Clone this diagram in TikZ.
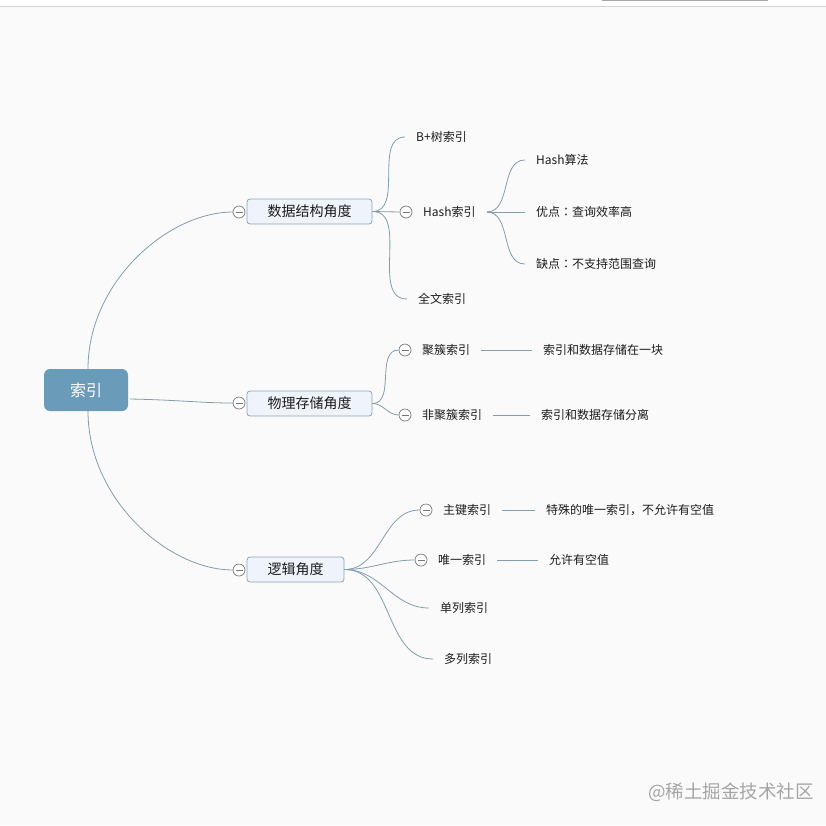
\documentclass[tikz,border=0pt]{standalone}
\usepackage{fontspec}
\setmainfont{Noto Sans CJK SC}
\newfontfamily\tcfont{Noto Sans CJK TC}
\newcommand{\fwcolon}{{\tcfont ：}}
\definecolor{bgc}{RGB}{250,250,250}
\definecolor{rootc}{RGB}{106,155,185}
\definecolor{boxfill}{RGB}{238,244,250}
\definecolor{boxline}{RGB}{140,165,182}
\definecolor{linec}{RGB}{130,158,172}
\definecolor{foldc}{RGB}{120,120,120}
\definecolor{textc}{RGB}{28,28,28}
\definecolor{wmc}{RGB}{165,165,165}
\definecolor{topc}{RGB}{212,212,212}
\begin{document}
\begin{tikzpicture}[x=1pt,y=-1pt,
  conn/.style={draw=linec, line width=0.8pt},
  rootbox/.style={rounded corners=6pt, fill=rootc, text=white, minimum width=84pt, minimum height=42pt, font=\fontsize{16}{18}\selectfont, inner sep=0pt},
  midbox/.style={rounded corners=3pt, draw=boxline, fill=boxfill, line width=0.8pt, minimum height=25pt, font=\fontsize{14}{16}\selectfont, text=textc, inner sep=0pt},
  leaf/.style={anchor=west, inner xsep=11pt, inner ysep=2pt, font=\fontsize{12}{14}\selectfont, text=textc},
  fold/.style={circle, draw=foldc, fill=white, line width=0.7pt, minimum size=12pt, inner sep=0pt,
    path picture={\draw[foldc, line width=0.7pt] ([xshift=2.5pt]path picture bounding box.west) -- ([xshift=-2.5pt]path picture bounding box.east);}}
]
\useasboundingbox (0,0) rectangle (826,825);
\fill[bgc] (0,0) rectangle (826,825);
\fill[white] (0,0) rectangle (826,6);
\draw[topc, line width=1pt] (0,6) -- (826,6);
\draw[black!35, line width=1.2pt] (602,0.6) -- (768,0.6);

% root
\node[rootbox] (root) at (86,390) {索引};

% level-1 boxes and fold marks
\node[midbox, minimum width=125pt] (b1) at (309.5,211.5) {数据结构角度};
\node[midbox, minimum width=125pt] (b2) at (309.5,403.5) {物理存储角度};
\node[midbox, minimum width=97pt] (b3) at (295.5,569.5) {逻辑角度};

\draw[conn] ([xshift=2pt]root.north) .. controls (88,282) and (168,212) .. (233,212) coordinate (e1);
\draw[conn] ([xshift=2pt,yshift=-9pt]root.east) .. controls (180,400) and (200,403) .. (233,403) coordinate (e2);
\draw[conn] ([xshift=2pt]root.south) .. controls (88,499) and (168,570) .. (233,570) coordinate (e3);

\node[fold] (f1) at (239,212) {};
\node[fold] (f2) at (239,403) {};
\node[fold] (f3) at (239,570) {};

% 数据结构角度
\node[leaf] (bplus) at (405,137) {B+树索引};
\node[fold] (f4) at (406,212) {};
\node[leaf] (hash) at (412,212) {Hash索引};
\node[leaf] (qw) at (407,299) {全文索引};
\draw[conn] (b1.east) to[out=0,in=180] (bplus.west);
\draw[conn] (b1.east) -- (f4.west);
\draw[conn] (b1.east) to[out=0,in=180] (qw.west);

\node[leaf] (ha) at (525,160) {Hash算法};
\node[leaf] (hy) at (525,212) {优点\fwcolon 查询效率高};
\node[leaf] (hq) at (525,264) {缺点\fwcolon 不支持范围查询};
\draw[conn] (hash.east) to[out=0,in=180] (ha.west);
\draw[conn] (hash.east) -- (hy.west);
\draw[conn] (hash.east) to[out=0,in=180] (hq.west);

% 物理存储角度
\node[fold] (f5) at (405,350) {};
\node[fold] (f6) at (405,415) {};
\draw[conn] (b2.east) to[out=0,in=180] (f5.west);
\draw[conn] (b2.east) to[out=0,in=180] (f6.west);
\node[leaf] (jc) at (411,350) {聚簇索引};
\node[leaf] (jcd) at (532,350) {索引和数据存储在一块};
\draw[conn] (jc.east) -- (jcd.west);
\node[leaf] (fjc) at (411,415) {非聚簇索引};
\node[leaf] (fjcd) at (530,415) {索引和数据存储分离};
\draw[conn] (fjc.east) -- (fjcd.west);

% 逻辑角度
\node[fold] (f7) at (426,510) {};
\node[fold] (f8) at (421,560) {};
\node[leaf] (zj) at (432,510) {主键索引};
\node[leaf] (zjd) at (535,510) {特殊的唯一索引，不允许有空值};
\node[leaf] (wy) at (427,560) {唯一索引};
\node[leaf] (wyd) at (538,560) {允许有空值};
\node[leaf] (dl) at (429,608) {单列索引};
\node[leaf] (dul) at (433,659) {多列索引};
\draw[conn] (b3.east) to[out=0,in=180] (f7.west);
\draw[conn] (b3.east) to[out=0,in=180] (f8.west);
\draw[conn] (b3.east) to[out=0,in=180] (dl.west);
\draw[conn] (b3.east) to[out=0,in=180] (dul.west);
\draw[conn] (zj.east) -- (zjd.west);
\draw[conn] (wy.east) -- (wyd.west);

% watermark
\node[anchor=west, inner sep=0pt, text=wmc, font=\fontsize{18.5}{20}\selectfont] (wm) at (648,792) {@稀土掘金技术社区};
\end{tikzpicture}
\end{document}
